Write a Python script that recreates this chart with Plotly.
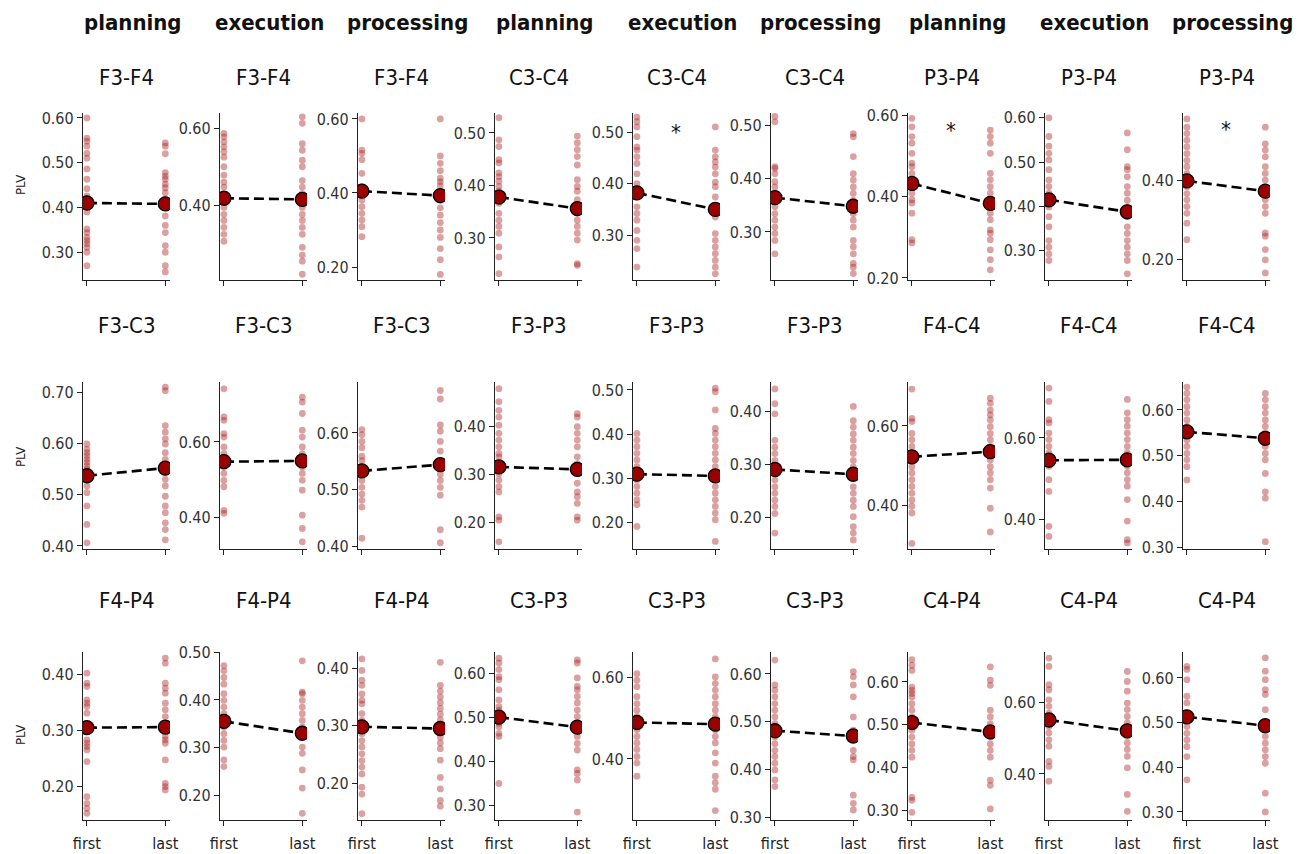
import plotly.graph_objects as go

# ---------------- DATA ----------------
conditions = ["planning", "execution", "processing"]
x_labels = ["first", "last"]

row1_pairs = ["F3-F4", "F3-F4", "F3-F4", "C3-C4", "C3-C4", "C3-C4", "P3-P4", "P3-P4", "P3-P4"]
row2_pairs = ["F3-C3", "F3-C3", "F3-C3", "F3-P3", "F3-P3", "F3-P3", "F4-C4", "F4-C4", "F4-C4"]
row3_pairs = ["F4-P4", "F4-P4", "F4-P4", "C3-P3", "C3-P3", "C3-P3", "C4-P4", "C4-P4", "C4-P4"]

# group means (large markers), panels in reading order (row by row)
mean_first = [0.410, 0.418, 0.405, 0.378, 0.382, 0.364, 0.432, 0.415, 0.398,
              0.537, 0.548, 0.533, 0.315, 0.310, 0.290, 0.522, 0.545, 0.552,
              0.305, 0.355, 0.298, 0.500, 0.489, 0.481, 0.505, 0.550, 0.513]
mean_last = [0.408, 0.415, 0.393, 0.356, 0.350, 0.348, 0.383, 0.388, 0.372,
             0.552, 0.550, 0.544, 0.310, 0.306, 0.281, 0.535, 0.546, 0.538,
             0.306, 0.330, 0.295, 0.477, 0.485, 0.470, 0.483, 0.520, 0.493]

# significant panels (index in reading order) and star height (PLV units)
star_panels = [4, 6, 8]
star_values = [0.500, 0.563, 0.527]

# individual subject values
F3F4_planning_first = [0.60, 0.555, 0.548, 0.537, 0.521, 0.51, 0.486, 0.463, 0.442, 0.426, 0.415, 0.404, 0.39, 0.352, 0.344, 0.333, 0.326, 0.319, 0.311, 0.30, 0.27]
F3F4_planning_last = [0.544, 0.537, 0.52, 0.478, 0.47, 0.463, 0.452, 0.444, 0.433, 0.419, 0.404, 0.381, 0.36, 0.344, 0.315, 0.30, 0.27, 0.256]
F3F4_execution_first = [0.587, 0.578, 0.565, 0.552, 0.539, 0.525, 0.50, 0.478, 0.46, 0.447, 0.42, 0.394, 0.376, 0.36, 0.342, 0.324, 0.306]
F3F4_execution_last = [0.63, 0.613, 0.56, 0.543, 0.517, 0.50, 0.464, 0.447, 0.43, 0.41, 0.394, 0.376, 0.36, 0.342, 0.324, 0.29, 0.27, 0.254, 0.22]
F3F4_processing_first = [0.60, 0.516, 0.507, 0.49, 0.453, 0.417, 0.40, 0.381, 0.363, 0.345, 0.327, 0.309, 0.282]
F3F4_processing_last = [0.60, 0.50, 0.48, 0.46, 0.44, 0.43, 0.42, 0.40, 0.38, 0.36, 0.34, 0.32, 0.30, 0.28, 0.25, 0.22, 0.18]

C3C4_planning_first = [0.529, 0.487, 0.474, 0.449, 0.443, 0.424, 0.417, 0.408, 0.398, 0.389, 0.379, 0.366, 0.347, 0.334, 0.322, 0.309, 0.283, 0.264, 0.232]
C3C4_planning_last = [0.494, 0.481, 0.468, 0.455, 0.439, 0.411, 0.398, 0.389, 0.373, 0.36, 0.347, 0.334, 0.322, 0.309, 0.296, 0.251, 0.248]
C3C4_execution_first = [0.529, 0.52, 0.51, 0.491, 0.471, 0.465, 0.452, 0.439, 0.419, 0.40, 0.387, 0.374, 0.355, 0.342, 0.329, 0.309, 0.29, 0.274, 0.238]
C3C4_execution_last = [0.51, 0.465, 0.452, 0.442, 0.432, 0.419, 0.403, 0.394, 0.374, 0.355, 0.335, 0.303, 0.29, 0.277, 0.264, 0.251, 0.238, 0.225]
C3C4_processing_first = [0.516, 0.506, 0.422, 0.419, 0.409, 0.394, 0.384, 0.372, 0.359, 0.347, 0.334, 0.322, 0.309, 0.297, 0.284, 0.259]
C3C4_processing_last = [0.484, 0.478, 0.441, 0.409, 0.397, 0.384, 0.372, 0.359, 0.347, 0.334, 0.322, 0.309, 0.284, 0.272, 0.259, 0.241, 0.234, 0.222]

P3P4_planning_first = [0.592, 0.571, 0.547, 0.531, 0.506, 0.482, 0.473, 0.457, 0.441, 0.424, 0.408, 0.392, 0.384, 0.359, 0.294, 0.286]
P3P4_planning_last = [0.563, 0.547, 0.531, 0.506, 0.457, 0.441, 0.424, 0.408, 0.392, 0.376, 0.359, 0.343, 0.318, 0.31, 0.294, 0.269, 0.245, 0.22]
P3P4_execution_first = [0.60, 0.558, 0.536, 0.52, 0.505, 0.483, 0.46, 0.445, 0.43, 0.414, 0.399, 0.377, 0.354, 0.323, 0.308, 0.293, 0.278]
P3P4_execution_last = [0.566, 0.528, 0.49, 0.483, 0.467, 0.445, 0.43, 0.414, 0.399, 0.377, 0.354, 0.339, 0.323, 0.308, 0.293, 0.278, 0.248]
P3P4_processing_first = [0.555, 0.534, 0.518, 0.501, 0.484, 0.467, 0.45, 0.434, 0.417, 0.40, 0.383, 0.366, 0.35, 0.333, 0.316, 0.291, 0.249]
P3P4_processing_last = [0.534, 0.492, 0.476, 0.459, 0.434, 0.417, 0.40, 0.383, 0.366, 0.35, 0.333, 0.316, 0.266, 0.258, 0.224, 0.198, 0.165]

F3C3_planning_first = [0.599, 0.589, 0.582, 0.576, 0.569, 0.563, 0.556, 0.55, 0.543, 0.53, 0.517, 0.504, 0.478, 0.442, 0.406]
F3C3_planning_last = [0.71, 0.703, 0.635, 0.622, 0.609, 0.599, 0.582, 0.569, 0.556, 0.543, 0.53, 0.517, 0.497, 0.478, 0.465, 0.445, 0.432, 0.412]
F3C3_execution_first = [0.74, 0.666, 0.657, 0.622, 0.613, 0.587, 0.569, 0.552, 0.534, 0.517, 0.499, 0.482, 0.42, 0.412]
F3C3_execution_last = [0.718, 0.705, 0.675, 0.631, 0.613, 0.587, 0.569, 0.552, 0.534, 0.517, 0.499, 0.473, 0.407, 0.372, 0.337]
F3C3_processing_first = [0.606, 0.597, 0.585, 0.574, 0.559, 0.551, 0.539, 0.527, 0.516, 0.504, 0.492, 0.481, 0.469, 0.414]
F3C3_processing_last = [0.675, 0.66, 0.614, 0.603, 0.585, 0.568, 0.551, 0.539, 0.527, 0.516, 0.504, 0.49, 0.429, 0.406]

F3P3_planning_first = [0.478, 0.451, 0.433, 0.419, 0.402, 0.385, 0.371, 0.357, 0.343, 0.336, 0.322, 0.301, 0.288, 0.274, 0.263, 0.211, 0.204, 0.159]
F3P3_planning_last = [0.426, 0.419, 0.399, 0.385, 0.371, 0.357, 0.336, 0.322, 0.308, 0.281, 0.263, 0.253, 0.239, 0.211, 0.204]
F3P3_execution_first = [0.402, 0.387, 0.372, 0.357, 0.342, 0.327, 0.312, 0.297, 0.282, 0.267, 0.252, 0.241, 0.192]
F3P3_execution_last = [0.504, 0.496, 0.455, 0.413, 0.402, 0.387, 0.372, 0.357, 0.342, 0.327, 0.305, 0.282, 0.267, 0.252, 0.237, 0.222, 0.207, 0.158]
F3P3_processing_first = [0.442, 0.414, 0.395, 0.345, 0.332, 0.32, 0.307, 0.295, 0.282, 0.27, 0.257, 0.245, 0.232, 0.22, 0.207, 0.17]
F3P3_processing_last = [0.409, 0.382, 0.37, 0.357, 0.345, 0.332, 0.32, 0.307, 0.295, 0.282, 0.257, 0.245, 0.232, 0.22, 0.201, 0.182, 0.17, 0.157]

F4C4_planning_first = [0.693, 0.619, 0.611, 0.581, 0.565, 0.548, 0.531, 0.514, 0.497, 0.481, 0.464, 0.447, 0.43, 0.413, 0.397, 0.38, 0.303]
F4C4_planning_last = [0.67, 0.657, 0.64, 0.628, 0.615, 0.598, 0.581, 0.565, 0.548, 0.531, 0.514, 0.497, 0.481, 0.464, 0.443, 0.392, 0.332]
F4C4_execution_first = [0.723, 0.69, 0.645, 0.637, 0.612, 0.596, 0.579, 0.563, 0.546, 0.53, 0.497, 0.468, 0.382, 0.357]
F4C4_execution_last = [0.695, 0.662, 0.645, 0.629, 0.612, 0.596, 0.579, 0.563, 0.546, 0.53, 0.514, 0.497, 0.481, 0.448, 0.395, 0.349, 0.341]
F4C4_processing_first = [0.65, 0.636, 0.622, 0.607, 0.593, 0.578, 0.564, 0.549, 0.534, 0.52, 0.505, 0.491, 0.476, 0.447]
F4C4_processing_last = [0.636, 0.622, 0.607, 0.593, 0.578, 0.564, 0.549, 0.534, 0.52, 0.505, 0.491, 0.461, 0.421, 0.407, 0.312]

F4P4_planning_first = [0.403, 0.385, 0.379, 0.355, 0.349, 0.343, 0.331, 0.283, 0.277, 0.271, 0.265, 0.244, 0.181, 0.169, 0.16, 0.151]
F4P4_planning_last = [0.43, 0.421, 0.385, 0.376, 0.367, 0.349, 0.337, 0.325, 0.313, 0.301, 0.289, 0.283, 0.277, 0.247, 0.205, 0.199, 0.193]
F4P4_execution_first = [0.472, 0.461, 0.447, 0.433, 0.413, 0.399, 0.385, 0.371, 0.357, 0.343, 0.329, 0.315, 0.301, 0.274, 0.26]
F4P4_execution_last = [0.482, 0.416, 0.413, 0.399, 0.385, 0.371, 0.357, 0.343, 0.329, 0.301, 0.288, 0.253, 0.215, 0.162]
F4P4_processing_first = [0.416, 0.396, 0.379, 0.37, 0.355, 0.344, 0.338, 0.321, 0.309, 0.297, 0.286, 0.274, 0.263, 0.251, 0.239, 0.228, 0.216, 0.193, 0.181, 0.147]
F4P4_processing_last = [0.41, 0.37, 0.36, 0.35, 0.34, 0.33, 0.32, 0.31, 0.30, 0.29, 0.28, 0.27, 0.26, 0.24, 0.21, 0.19, 0.17, 0.16]

C3P3_planning_first = [0.634, 0.623, 0.608, 0.592, 0.585, 0.562, 0.539, 0.524, 0.516, 0.501, 0.486, 0.478, 0.463, 0.456, 0.349]
C3P3_planning_last = [0.63, 0.623, 0.589, 0.57, 0.562, 0.547, 0.532, 0.516, 0.501, 0.486, 0.471, 0.456, 0.44, 0.425, 0.38, 0.372, 0.357, 0.284]
C3P3_execution_first = [0.608, 0.592, 0.576, 0.552, 0.535, 0.519, 0.503, 0.487, 0.471, 0.455, 0.439, 0.423, 0.406, 0.39, 0.358]
C3P3_execution_last = [0.644, 0.60, 0.584, 0.568, 0.552, 0.535, 0.519, 0.503, 0.487, 0.471, 0.455, 0.439, 0.415, 0.39, 0.358, 0.342, 0.326, 0.274]
C3P3_processing_first = [0.629, 0.577, 0.566, 0.552, 0.538, 0.524, 0.51, 0.496, 0.482, 0.468, 0.454, 0.44, 0.427, 0.413, 0.399, 0.378, 0.364]
C3P3_processing_last = [0.605, 0.594, 0.577, 0.552, 0.51, 0.482, 0.468, 0.44, 0.427, 0.42, 0.346, 0.329, 0.315]

C4P4_planning_first = [0.652, 0.639, 0.627, 0.588, 0.58, 0.573, 0.565, 0.549, 0.534, 0.518, 0.502, 0.487, 0.471, 0.455, 0.44, 0.424, 0.33, 0.323, 0.295]
C4P4_planning_last = [0.635, 0.604, 0.592, 0.534, 0.518, 0.502, 0.487, 0.471, 0.455, 0.44, 0.424, 0.37, 0.358, 0.303]
C4P4_execution_first = [0.722, 0.699, 0.648, 0.634, 0.606, 0.588, 0.569, 0.551, 0.532, 0.514, 0.495, 0.477, 0.435, 0.421, 0.38]
C4P4_execution_last = [0.685, 0.657, 0.63, 0.597, 0.579, 0.56, 0.542, 0.523, 0.505, 0.486, 0.468, 0.449, 0.417, 0.343, 0.296]
C4P4_processing_first = [0.626, 0.619, 0.596, 0.559, 0.544, 0.521, 0.506, 0.491, 0.476, 0.461, 0.446, 0.424, 0.372]
C4P4_processing_last = [0.645, 0.615, 0.596, 0.574, 0.563, 0.529, 0.499, 0.484, 0.469, 0.454, 0.439, 0.424, 0.409, 0.342, 0.30]

panel_first = [
    F3F4_planning_first, F3F4_execution_first, F3F4_processing_first,
    C3C4_planning_first, C3C4_execution_first, C3C4_processing_first,
    P3P4_planning_first, P3P4_execution_first, P3P4_processing_first,
    F3C3_planning_first, F3C3_execution_first, F3C3_processing_first,
    F3P3_planning_first, F3P3_execution_first, F3P3_processing_first,
    F4C4_planning_first, F4C4_execution_first, F4C4_processing_first,
    F4P4_planning_first, F4P4_execution_first, F4P4_processing_first,
    C3P3_planning_first, C3P3_execution_first, C3P3_processing_first,
    C4P4_planning_first, C4P4_execution_first, C4P4_processing_first,
]
panel_last = [
    F3F4_planning_last, F3F4_execution_last, F3F4_processing_last,
    C3C4_planning_last, C3C4_execution_last, C3C4_processing_last,
    P3P4_planning_last, P3P4_execution_last, P3P4_processing_last,
    F3C3_planning_last, F3C3_execution_last, F3C3_processing_last,
    F3P3_planning_last, F3P3_execution_last, F3P3_processing_last,
    F4C4_planning_last, F4C4_execution_last, F4C4_processing_last,
    F4P4_planning_last, F4P4_execution_last, F4P4_processing_last,
    C3P3_planning_last, C3P3_execution_last, C3P3_processing_last,
    C4P4_planning_last, C4P4_execution_last, C4P4_processing_last,
]
panel_titles = row1_pairs + row2_pairs + row3_pairs

# ---------------- STYLE / LAYOUT ----------------
y_ranges = [
    [0.238, 0.611], [0.205, 0.640], [0.165, 0.616], [0.220, 0.538], [0.213, 0.537], [0.210, 0.5225], [0.195, 0.605], [0.234, 0.611], [0.147, 0.570],
    [0.394, 0.720], [0.318, 0.758], [0.395, 0.690], [0.144, 0.492], [0.141, 0.518], [0.140, 0.455], [0.289, 0.711], [0.326, 0.738], [0.296, 0.661],
    [0.139, 0.441], [0.148, 0.5005], [0.136, 0.428], [0.266, 0.648], [0.251, 0.661], [0.294, 0.646], [0.277, 0.670], [0.272, 0.739], [0.282, 0.658],
]
y_dticks = [
    0.1, 0.2, 0.2, 0.1, 0.1, 0.1, 0.2, 0.1, 0.2,
    0.1, 0.2, 0.1, 0.1, 0.1, 0.1, 0.2, 0.2, 0.1,
    0.1, 0.1, 0.1, 0.1, 0.2, 0.1, 0.1, 0.2, 0.1,
]

W, H = 1301, 854
col_left = [83, 220, 358, 495, 633, 771, 908, 1045, 1183]
ax_w = 87
row_top = [113, 382, 652]
row_bot = [280, 549, 820]
title_y = [78, 325, 600]
plv_y = [185, 457, 735]
header_y = 22

FONT = "DejaVu Sans Condensed, Noto Sans, DejaVu Sans, sans-serif"
pt_color = "rgba(170, 30, 30, 0.42)"
mean_color = "#9b0000"

fig = go.Figure()
annotations = []
layout_axes = {}

for k in range(27):
    r, c = divmod(k, 9)
    idx = "" if k == 0 else str(k + 1)
    xa, ya = "x" + idx, "y" + idx
    f, l = panel_first[k], panel_last[k]

    fig.add_trace(go.Scatter(
        x=[x_labels[0]] * len(f) + [x_labels[1]] * len(l), y=f + l,
        xaxis=xa, yaxis=ya, mode="markers", showlegend=False,
        marker=dict(size=6.8, color=pt_color, line=dict(width=0)),
        hoverinfo="y"))
    fig.add_trace(go.Scatter(
        x=x_labels, y=[mean_first[k], mean_last[k]],
        xaxis=xa, yaxis=ya, mode="lines+markers", showlegend=False,
        line=dict(color="black", width=2.6, dash="10px,5px"),
        marker=dict(size=14, color=mean_color, line=dict(color="black", width=1.3))))

    x0 = col_left[c] / W
    x1 = (col_left[c] + ax_w) / W
    y0 = 1 - row_bot[r] / H
    y1 = 1 - row_top[r] / H
    layout_axes["xaxis" + idx] = dict(
        domain=[x0, x1], anchor=ya, type="category", automargin=False,
        categoryorder="array", categoryarray=x_labels,
        range=[-0.05, 1.06], showline=True, linecolor="#222", linewidth=1.2,
        ticks="outside", ticklen=5, tickwidth=1.2, tickcolor="#222",
        showgrid=False, zeroline=False, showticklabels=(r == 2),
        tickfont=dict(family=FONT, size=16, color="#222"), ticklabelstandoff=4)
    layout_axes["yaxis" + idx] = dict(
        domain=[y0, y1], anchor=xa, range=y_ranges[k], tick0=0, dtick=y_dticks[k],
        tickformat=".2f", showline=True, linecolor="#222", linewidth=1.2, automargin=False,
        ticks="outside", ticklen=5, tickwidth=1.2, tickcolor="#222",
        showgrid=False, zeroline=False,
        tickfont=dict(family=FONT, size=16, color="#333"))

    # subplot title
    annotations.append(dict(
        text=panel_titles[k], x=(col_left[c] + ax_w / 2) / W, y=1 - title_y[r] / H,
        xref="paper", yref="paper", xanchor="center", yanchor="middle",
        showarrow=False, font=dict(family=FONT, size=22, color="#111")))

# column headers
for c in range(9):
    annotations.append(dict(
        text="<b>" + conditions[c % 3] + "</b>", x=(col_left[c] + ax_w / 2 + 6) / W, y=1 - header_y / H,
        xref="paper", yref="paper", xanchor="center", yanchor="middle",
        showarrow=False, font=dict(family=FONT, size=22, color="#111")))

# PLV labels
for r in range(3):
    annotations.append(dict(
        text="PLV", x=20 / W, y=1 - plv_y[r] / H, xref="paper", yref="paper",
        xanchor="center", yanchor="middle", textangle=-90, showarrow=False,
        font=dict(family=FONT, size=13, color="#222")))

# significance stars
for k, v in zip(star_panels, star_values):
    idx = "" if k == 0 else str(k + 1)
    annotations.append(dict(
        text="*", x=0.5, y=v, xref="x" + idx, yref="y" + idx,
        xanchor="center", yanchor="middle", showarrow=False,
        font=dict(family=FONT, size=22, color="#111")))

fig.update_layout(
    width=W, height=H, margin=dict(l=0, r=0, t=0, b=0, autoexpand=False),
    paper_bgcolor="white", plot_bgcolor="white",
    annotations=annotations, **layout_axes)

fig.write_html("out.html", config={"displayModeBar": False},
               post_script="document.body.style.margin='0px';document.body.style.overflow='hidden';")
